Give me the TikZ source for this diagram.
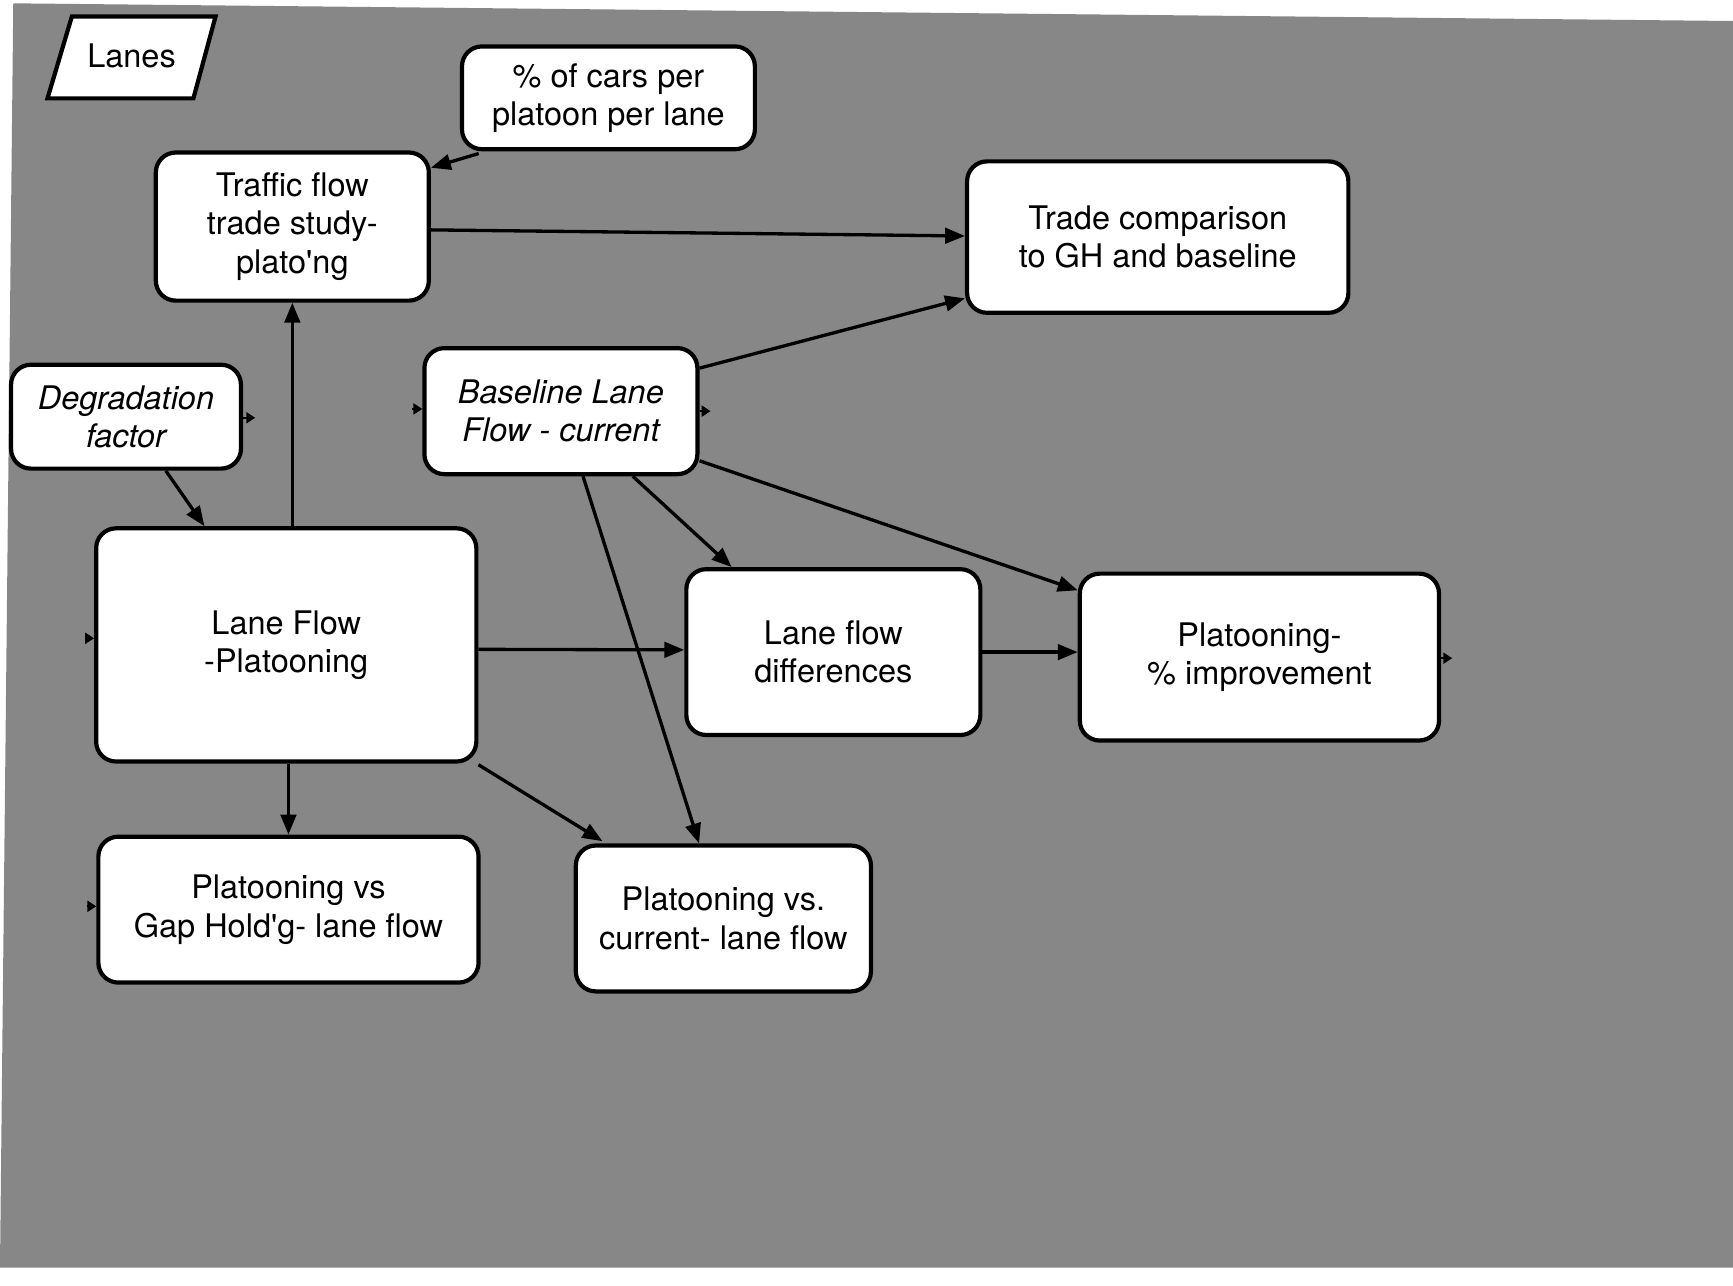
\documentclass[tikz,border=0pt]{standalone}
\usepackage{fontspec}
\setmainfont{TeX Gyre Heros}
\usetikzlibrary{calc,arrows.meta}
\begin{document}
\begin{tikzpicture}[x=0.5pt,y=-0.5pt,
  txt/.style={font=\fontsize{14.7}{17.3}\selectfont,align=center},
  box/.style={txt,draw,line width=1.9pt,fill=white,rounded corners=9pt,inner sep=0pt},
  arr/.style={line width=1.5pt,-{Triangle[length=9pt,width=7pt]}},
  stubarr/.style={line width=0.8pt,-{Triangle[length=4pt,width=5pt]}},
]
\useasboundingbox (0,0) rectangle (1568,1163);
\fill[black!47] (12,3) -- (1568,19) -- (1568,1147) -- (0,1147) -- cycle;

% Lanes (parallelogram)
\draw[line width=1.9pt,fill=white] (65,15) -- (195,15) -- (175,89) -- (43,89) -- cycle;
\node[txt] (lanes) at (119,51) {Lanes};

% boxes
\node[box,minimum width=132.5pt,minimum height=46.5pt] (pct) at (550.5,88.5) {\% of cars per\\platoon per lane};
\node[box,minimum width=123.5pt,minimum height=67pt] (tfs) at (264.5,205) {Traffic flow\\trade study-\\plato\textquotesingle ng};
\node[box,minimum width=172.5pt,minimum height=68.5pt] (trade) at (1047.5,214.5) {Trade comparison\\to GH and baseline};
\node[box,minimum width=104pt,minimum height=47pt] (deg) at (114,377) {\itshape Degradation\\\itshape factor};
\node[box,minimum width=123.5pt,minimum height=57pt] (base) at (507.5,372) {\itshape Baseline Lane\\\itshape Flow - current};
\node[box,minimum width=172pt,minimum height=105.5pt] (lfp) at (259,583.5) {Lane Flow\\-Platooning};
\node[box,minimum width=133pt,minimum height=75pt] (lfd) at (754,590) {Lane flow\\differences};
\node[box,minimum width=162.5pt,minimum height=75.5pt] (pimp) at (1139.5,594.5) {Platooning-\\\% improvement};
\node[box,minimum width=172pt,minimum height=66pt] (pgap) at (261,823) {Platooning vs\\Gap Hold\textquotesingle g- lane flow};
\node[box,minimum width=133.5pt,minimum height=66pt] (pcur) at (654.5,831) {Platooning vs.\\current- lane flow};

% connectors
\draw[arr] ($(pct.south west)+(17,2)$) -- (tfs.23);
\draw[arr] ($(tfs.east)+(0,3)$) -- ($(trade.west)+(0,-1)$);
\draw[arr] (tfs.south |- lfp.north) -- (tfs.south);
\draw[arr] ($(deg.south)+(36,0)$) -- ($(lfp.north)+(-74,0)$);
\draw[arr] ($(base.north east)+(0,20)$) -- ($(trade.south west)+(0,-15)$);
\draw[arr] ($(base.south)+(65,0)$) -- ($(lfd.north)+(-92,0)$);
\draw[arr] ($(base.south east)+(0,-14)$) -- ($(pimp.north west)+(0,17)$);
\draw[arr] ($(base.south)+(20,0)$) -- ($(pcur.north)+(-22,0)$);
\draw[arr] ($(lfp.east)+(0,4)$) -- ($(lfd.west)+(0,-2)$);
\draw[arr] (lfd.east) -- (lfd.east -| pimp.west);
\draw[arr] (lfp.south -| pgap.north) -- (pgap.north);
\draw[arr] ($(lfp.south east)+(0,1)$) -- ($(pcur.north west)+(26,-2)$);

% small dangling arrowheads
\coordinate (s1) at ($(deg.east)+(11,1)$);
\coordinate (s2) at ($(base.west)+(-9,-2)$);
\coordinate (s3) at ($(base.east)+(10,0)$);
\coordinate (s4) at ($(lfp.west)+(-8,-6)$);
\coordinate (s5) at ($(pimp.east)+(10,1)$);
\coordinate (s6) at ($(pgap.west)+(-8,-3)$);
\draw[stubarr] (deg.east |- s1) -- (s1);
\draw[stubarr] (s2) -- (s2 -| base.west);
\draw[stubarr] (base.east) -- (s3);
\draw[stubarr] (s4) -- (s4 -| lfp.west);
\draw[stubarr] (pimp.east |- s5) -- (s5);
\draw[stubarr] (s6) -- (s6 -| pgap.west);
\end{tikzpicture}
\end{document}
